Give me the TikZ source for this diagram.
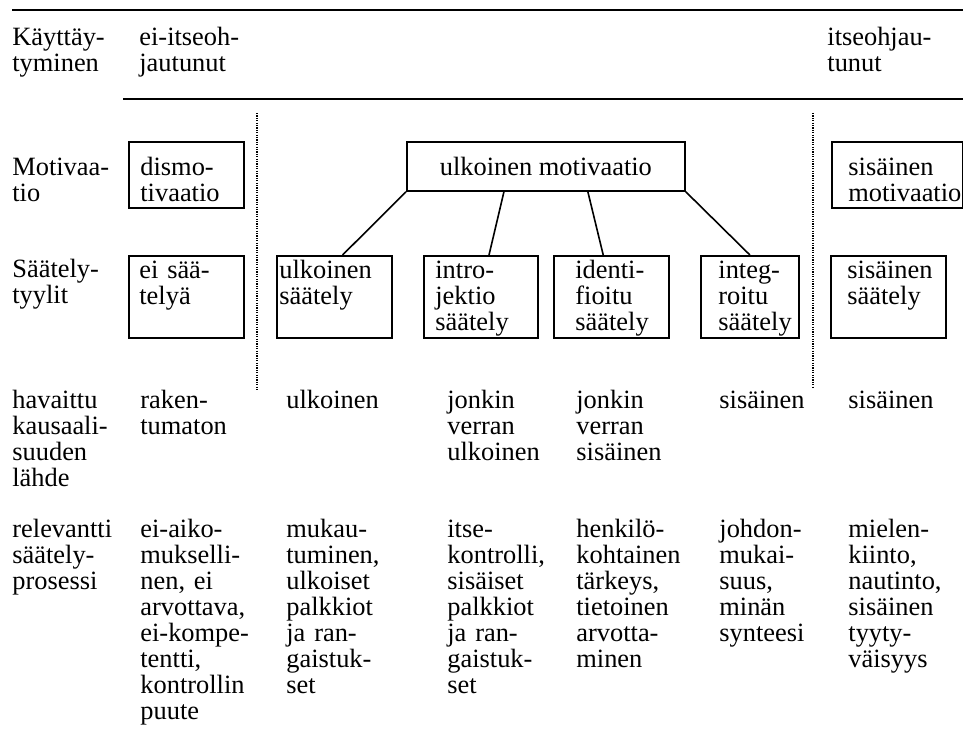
\documentclass[tikz,border=0pt]{standalone}
\usepackage{fontspec}
\setmainfont{Liberation Serif}
\usetikzlibrary{calc}

\begin{document}
\begin{tikzpicture}[x=0.5pt,y=-0.5pt,
  txt/.style={anchor=base west,inner sep=0pt,text width=70pt,align=left,
    font=\fontsize{13.2}{13}\selectfont},
  box/.style={draw,line width=0.9pt,anchor=north west,inner sep=0pt},
  conn/.style={line width=0.8pt},
  dots/.style={line width=0.6pt,dash pattern=on 0.6pt off 0.6pt}]
  \useasboundingbox (0,0) rectangle (963,749);
  %table rules
  \draw [line width=1pt] (12,10.5) -- (963,10.5);
  \draw [line width=0.7pt] (123,99) -- (963,99);
  \draw [dots] (257,113) -- (257,390);
  \draw [dots] (813,113) -- (813,388);
  %row headings
  \node [txt] (hkay) at (12,46) {Käyttäy-\\tyminen};
  \node [txt] (hmot) at (12,176) {Motivaa-\\tio};
  \node [txt] (hsaa) at (12,277) {Säätely-\\tyylit};
  \node [txt] (hhav) at (12,408) {havaittu\\kausaali-\\suuden\\lähde};
  \node [txt] (hrel) at (12,537) {relevantti\\säätely-\\prosessi};
  %behaviour
  \node [txt] (eio) at (139,46) {ei-itseoh-\\jautunut};
  \node [txt] (io) at (827,46) {itseohjau-\\tunut};
  %motivation boxes
  \node [box,minimum width=57.5pt,minimum height=33pt] (dm) at (128,141) {};
  \node [txt] (dmt) at ([shift={(12,35)}]dm.north west) {dismo-\\tivaatio};
  \node [box,minimum width=139pt,minimum height=24.5pt,
    font=\fontsize{13.2}{13}\selectfont] (umot) at (406,141) {ulkoinen motivaatio};
  \node [box,minimum width=65.5pt,minimum height=33pt] (sm) at (831,141) {};
  \node [txt] (smt) at ([shift={(17,35)}]sm.north west) {sisäinen\\motivaatio};
  %regulation boxes
  \node [box,minimum width=57.5pt,minimum height=41pt] (es) at (128,255) {};
  \node [txt] (est) at ([shift={(11,23)}]es.north west) {ei sää-\\telyä};
  \node [box,minimum width=57.5pt,minimum height=41pt] (us) at (276,255) {};
  \node [txt] (ust) at ([shift={(3,23)}]us.north west) {ulkoinen\\säätely};
  \node [box,minimum width=57pt,minimum height=41pt] (ij) at (423,255) {};
  \node [txt] (ijt) at ([shift={(12,23)}]ij.north west) {intro-\\jektio\\säätely};
  \node [box,minimum width=57.5pt,minimum height=41pt] (id) at (553,255) {};
  \node [txt] (idt) at ([shift={(22,23)}]id.north west) {identi-\\fioitu\\säätely};
  \node [box,minimum width=49pt,minimum height=41pt] (ig) at (700,255) {};
  \node [txt] (igt) at ([shift={(18,23)}]ig.north west) {integ-\\roitu\\säätely};
  \node [box,minimum width=57.5pt,minimum height=41pt] (ss) at (830,255) {};
  \node [txt] (sst) at ([shift={(17,23)}]ss.north west) {sisäinen\\säätely};
  %connectors
  \draw [conn] (umot.south west) -- ($(us.north west)!0.57!(us.north east)$);
  \draw [conn] ($(umot.south west)!0.35!(umot.south east)$)
    -- ($(ij.north west)!0.57!(ij.north east)$);
  \draw [conn] ($(umot.south west)!0.65!(umot.south east)$)
    -- ($(id.north west)!0.43!(id.north east)$);
  \draw [conn] (umot.south east) -- (ig.north);
  %perceived locus of causality
  \node [txt] (l2) at (140,408) {raken-\\tumaton};
  \node [txt] (l3) at (286,408) {ulkoinen};
  \node [txt] (l4) at (447,408) {jonkin\\verran\\ulkoinen};
  \node [txt] (l5) at (576,408) {jonkin\\verran\\sisäinen};
  \node [txt] (l6) at (719,408) {sisäinen};
  \node [txt] (l7) at (848,408) {sisäinen};
  %regulatory processes
  \node [txt] (p2) at (140,537) {ei-aiko-\\mukselli-\\nen, ei\\arvottava,\\ei-kompe-\\tentti,\\kontrollin\\puute};
  \node [txt] (p3) at (286,537) {mukau-\\tuminen,\\ulkoiset\\palkkiot\\ja ran-\\gaistuk-\\set};
  \node [txt] (p4) at (447,537) {itse-\\kontrolli,\\sisäiset\\palkkiot\\ja ran-\\gaistuk-\\set};
  \node [txt] (p5) at (576,537) {henkilö-\\kohtainen\\tärkeys,\\tietoinen\\arvotta-\\minen};
  \node [txt] (p6) at (719,537) {johdon-\\mukai-\\suus,\\minän\\synteesi};
  \node [txt] (p7) at (848,537) {mielen-\\kiinto,\\nautinto,\\sisäinen\\tyyty-\\väisyys};
\end{tikzpicture}
\end{document}
